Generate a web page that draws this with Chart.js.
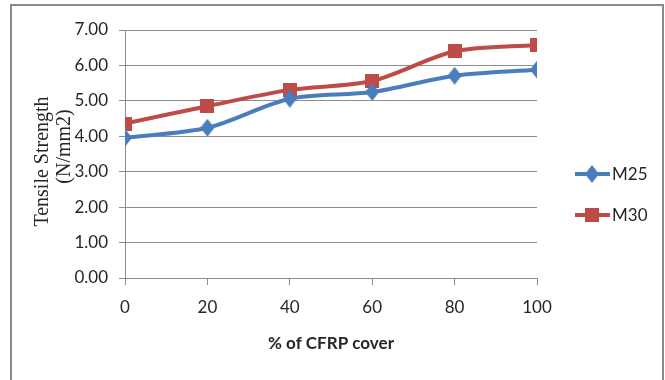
<!DOCTYPE html>
<html>
<head>
<meta charset="utf-8">
<script src="https://cdn.jsdelivr.net/npm/chart.js@4.4.1/dist/chart.umd.min.js"></script>
<style>
  html, body { margin: 0; padding: 0; background: #fff; }
  #wrap { position: relative; width: 665px; height: 380px; overflow: hidden; }
  #frame { position: absolute; left: 10px; top: 4px; width: 650px; height: 400px;
           border: 2px solid #8a8a8a; border-bottom: none; }
  canvas { position: absolute; left: 0; top: 0; }
</style>
</head>
<body>
<div id="wrap">
  <div id="frame"></div>
  <canvas id="chart" width="665" height="380"></canvas>
</div>
<script>
// CFRP cover percentages and measured tensile strengths (N/mm2)
const coverPct = [0, 20, 40, 60, 80, 100];
const m25 = [3.96, 4.24, 5.06, 5.25, 5.71, 5.88];
const m30 = [4.36, 4.85, 5.31, 5.56, 6.40, 6.58];
const seriesNames = ['M25', 'M30'];
const yTicks = [0, 1, 2, 3, 4, 5, 6, 7];

const BLUE = '#4a7dbd';
const RED = '#be4b48';
const GRID = '#8e8e8e';
const TEXT = '#262626';
const SANS = 'Lato, "Open Sans", sans-serif';

// marker glyphs
function diamond(color, w, h) {
  const c = document.createElement('canvas');
  c.width = w; c.height = h;
  const g = c.getContext('2d');
  g.fillStyle = color;
  g.beginPath();
  g.moveTo(w / 2, 0); g.lineTo(w, h / 2); g.lineTo(w / 2, h); g.lineTo(0, h / 2);
  g.closePath(); g.fill();
  return c;
}
function square(color, s) {
  const c = document.createElement('canvas');
  c.width = s; c.height = s;
  const g = c.getContext('2d');
  g.fillStyle = color;
  g.fillRect(0, 0, s, s);
  return c;
}
const markM25 = diamond(BLUE, 14, 18);
const markM30 = square(RED, 14);

const toPoints = (vals) => coverPct.map((x, i) => ({ x: x, y: vals[i] }));

// legend on the right: short line with the series marker
const sideLegend = {
  id: 'sideLegend',
  afterDraw(chart) {
    const ctx = chart.ctx;
    const rows = [174, 215];
    ctx.save();
    chart.data.datasets.forEach((ds, i) => {
      const y = rows[i];
      ctx.strokeStyle = ds.borderColor;
      ctx.lineWidth = 4;
      ctx.beginPath();
      ctx.moveTo(575, y); ctx.lineTo(610, y);
      ctx.stroke();
      const img = ds.pointStyle;
      ctx.drawImage(img, 592 - img.width / 2, y - img.height / 2);
      ctx.fillStyle = TEXT;
      ctx.font = '17px ' + SANS;
      ctx.textBaseline = 'middle';
      ctx.textAlign = 'left';
      ctx.fillText(ds.label, 612, y + 1);
    });
    ctx.restore();
  }
};

new Chart(document.getElementById('chart'), {
  type: 'line',
  data: {
    datasets: [
      { label: seriesNames[0], data: toPoints(m25), borderColor: BLUE, backgroundColor: BLUE,
        borderWidth: 4, tension: 0.3, pointStyle: markM25 },
      { label: seriesNames[1], data: toPoints(m30), borderColor: RED, backgroundColor: RED,
        borderWidth: 4, tension: 0.3, pointStyle: markM30 }
    ]
  },
  options: {
    responsive: false,
    animation: false,
    layout: { padding: { left: 10, top: 30, right: 128, bottom: 10 } },
    plugins: { legend: { display: false }, tooltip: { enabled: false } },
    scales: {
      x: {
        type: 'linear', min: 0, max: 100,
        afterFit: (s) => { s.height = 92; },
        ticks: { stepSize: 20, color: TEXT, font: { family: SANS, size: 17 }, padding: 12 },
        grid: { drawOnChartArea: false, drawTicks: true, tickLength: 7, color: GRID },
        border: { color: GRID },
        title: { display: true, text: '% of CFRP cover', color: TEXT,
                 font: { family: SANS, size: 17, weight: 'bold' }, padding: { top: 0, bottom: 16 } }
      },
      y: {
        min: 0, max: 7,
        afterFit: (s) => { s.width = 115; },
        afterBuildTicks: (s) => { s.ticks = yTicks.map(v => ({ value: v })); },
        ticks: { color: TEXT, font: { family: SANS, size: 17 }, padding: 11,
                 callback: (v) => Number(v).toFixed(2) },
        grid: { color: GRID, tickLength: 6 },
        border: { color: GRID },
        title: { display: true, text: ['Tensile Strength   ', '   (N/mm2)'], color: TEXT,
                 font: { family: '"Liberation Serif", "Times New Roman", serif', size: 20, lineHeight: 1.1 },
                 padding: { top: 22, bottom: 0 } }
      }
    }
  },
  plugins: [sideLegend]
});
</script>
</body>
</html>
